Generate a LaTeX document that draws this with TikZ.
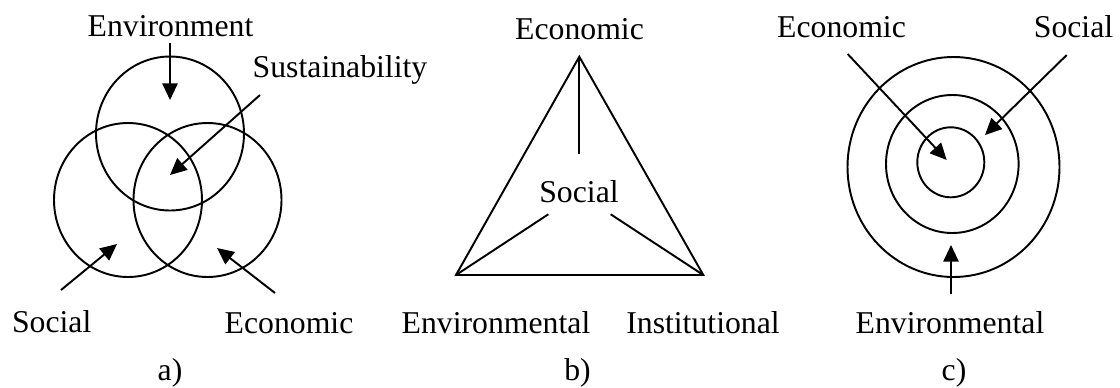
\documentclass[tikz,border=0pt]{standalone}
\usepackage{fontspec}
\setmainfont{Liberation Serif}
\usetikzlibrary{arrows.meta}
\begin{document}
\begin{tikzpicture}[x=0.75pt,y=-0.75pt,
  ln/.style={line width=1.45pt},
  arr/.style={line width=1.45pt,-{Triangle[length=12.5pt,width=11.5pt]}},
  lbl/.style={inner sep=0pt,anchor=base,font=\fontsize{23.8}{28}\selectfont}]
\useasboundingbox (0,0) rectangle (1120,387);
% ---------- panel a ----------
\draw[ln] (170,133.5) ellipse [x radius=74,y radius=77];
\draw[ln] (128,200) ellipse [x radius=74,y radius=77];
\draw[ln] (207.5,200) ellipse [x radius=74,y radius=77];
\node[lbl] (aenv) at (170.5,36) {Environment};
\node[lbl] (asus) at (340,77) {Sustainability};
\node[lbl] (asoc) at (51.7,332) {Social};
\node[lbl] (aeco) at (289,333) {Economic};
\node[lbl] (acap) at (170,380) {a)};
\coordinate (aenvS) at (170,43);   \coordinate (aenvT) at (170,100);
\coordinate (asusS) at (260,95);   \coordinate (asusT) at (170,175);
\coordinate (asocS) at (61,290);   \coordinate (asocT) at (117,244);
\coordinate (aecoS) at (275,293);  \coordinate (aecoT) at (217,248);
\draw[arr] (aenvS) -- (aenvT);
\draw[arr] (asusS) -- (asusT);
\draw[arr] (asocS) -- (asocT);
\draw[arr] (aecoS) -- (aecoT);
% ---------- panel b ----------
\coordinate (bA) at (579.3,56.7);
\coordinate (bL) at (456,275);
\coordinate (bR) at (703.3,275);
\draw[ln,line join=miter] (bA) -- (bL) -- (bR) -- cycle;
\coordinate (bV) at (579.3,154);
\coordinate (bSL) at (548.3,214.3);
\coordinate (bSR) at (610.7,214.3);
\draw[ln] (bA) -- (bV);
\draw[ln] (bL) -- (bSL);
\draw[ln] (bR) -- (bSR);
\node[lbl] (beco) at (579.5,39.3) {Economic};
\node[lbl] (bsoc) at (579,202) {Social};
\node[lbl] (benv) at (496,333) {Environmental};
\node[lbl] (binst) at (703,333) {Institutional};
\node[lbl] (bcap) at (577.5,380) {b)};
% ---------- panel c ----------
\draw[ln] (953.5,167) ellipse [x radius=106,y radius=110];
\draw[ln] (952.3,164) ellipse [x radius=66.3,y radius=69];
\draw[ln] (950.8,162.3) ellipse [x radius=33.5,y radius=35];
\node[lbl] (ceco) at (841.5,37.3) {Economic};
\node[lbl] (csoc) at (1073.5,37.3) {Social};
\node[lbl] (cenv) at (950,333.3) {Environmental};
\node[lbl] (ccap) at (954,380) {c)};
\coordinate (cecoS) at (847.7,54);  \coordinate (cecoT) at (946.7,160);
\coordinate (csocS) at (1066.7,55); \coordinate (csocT) at (985,135);
\coordinate (cenvS) at (951,294);   \coordinate (cenvT) at (951,245);
\draw[arr] (cecoS) -- (cecoT);
\draw[arr] (csocS) -- (csocT);
\draw[arr] (cenvS) -- (cenvT);
\end{tikzpicture}
\end{document}
